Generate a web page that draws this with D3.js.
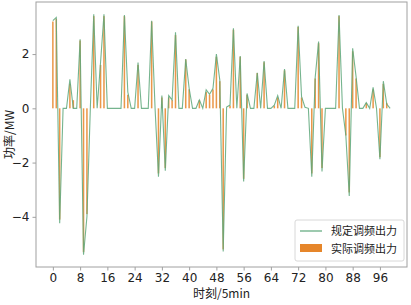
<!DOCTYPE html>
<html>
<head>
<meta charset="utf-8">
<script src="https://cdn.jsdelivr.net/npm/d3@7"></script>
<style>
  body { margin: 0; background: white; }
  text { font-family: "Noto Sans CJK SC", "DejaVu Sans", sans-serif; }
</style>
</head>
<body>
<div id="chart"></div>
<script>
// values, one per 5min step
const specified = [3.23, 3.35, -4.24, 0, 0, 1.07, 0, 0, 2.55, -5.40,
    -4.0, 0, 3.47, 0, 1.7, 3.47, 0, 0, 0, 0,
    0, 3.44, 0.6, 0, 0, 1.69, 0, 0, 0, 3.23,
    0, -2.52, 0.47, -2.30, 0.47, 0.31, 2.80, 0, 0, 1.82,
    0.74, 0, 0, 0.31, 0, 0.68, 0.52, 0.74, 2.0, 1.04,
    -5.28, 0.05, 0.12, 2.95, 0, 1.93, -2.70, 0.55, 0, 0,
    1.31, 0, 1.74, 0, 0, 0.12, 0.47, 0, 1.45, 0,
    0, 0, 3.04, 0.43, 0.04, 0, -2.52, 1.14, 2.46, -2.33,
    0, 0, 0, 0, 3.44, 0, -1.0, -3.23, 2.21, 1.17,
    0, 0, 0.21, 0, 0.77, 0, -1.88, 1.0, 0.16, 0];
const actual = [3.2, 3.3, -4.1, 0, 0, 0.9, 0.3, 0, 2.5, -5.3,
    -3.9, 0, 3.4, 0, 1.6, 3.4, 0, 0, 0, 0,
    0, 3.4, 0.5, 0, 0, 1.6, 0, 0, 0, 3.2,
    0, -2.4, 0.4, -2.2, 0.4, 0.3, 2.7, 0, 0, 1.8,
    0.7, 0, 0, 0.3, 0, 0.6, 0.5, 0.7, 1.9, 1.0,
    -5.2, 0, 0.1, 2.9, 0, 1.9, -2.6, 0.5, 0, 0,
    1.3, 0, 1.7, 0, 0, 0.1, 0.4, 0, 1.4, 0,
    0, 0, 3.0, 0.4, 0, 0, -2.4, 1.1, 2.4, -2.2,
    0, 0, 0, 0, 3.4, 0, -1.0, -3.1, 2.1, 1.1,
    0, 0, 0.2, 0, 0.7, 0, -1.8, 0.9, 0.2, 0];
const xTicks = [0, 8, 16, 24, 32, 40, 48, 56, 64, 72, 80, 88, 96];
const yTicks = [-4, -2, 0, 2];
const seriesNames = ["规定调频出力", "实际调频出力"];

const width = 411;
const height = 305;
const margin = {t: 2, b: 38, l: 36, r: 4};

const svg = d3.select("#chart")
    .append("svg")
    .attr("width", width)
    .attr("height", height)
    .attr("viewBox", [0, 0, width, height]);

const x = d3.scaleLinear()
    .domain([-4.95, 103.95])
    .range([margin.l, width - margin.r]);
const y = d3.scaleLinear()
    .domain([-5.85, 3.92])
    .range([height - margin.b, margin.t]);

const green = "#5da77a";
const orange = "#e6862a";
const barW = x(0.45) - x(0);

// bars
svg.append("g")
    .selectAll("rect")
    .data(actual)
    .enter()
    .append("rect")
    .attr("x", (d, i) => x(i) - barW / 2)
    .attr("y", d => y(Math.max(0, d)))
    .attr("width", barW)
    .attr("height", d => Math.abs(y(d) - y(0)))
    .attr("fill", orange)
    .attr("opacity", 0.85);

// line
const line = d3.line()
    .x((d, i) => x(i))
    .y(d => y(d));
svg.append("path")
    .datum(specified)
    .attr("d", line)
    .attr("fill", "none")
    .attr("stroke", green)
    .attr("stroke-width", 1.1)
    .attr("opacity", 0.85);

// frame
svg.append("rect")
    .attr("x", margin.l)
    .attr("y", margin.t)
    .attr("width", width - margin.l - margin.r)
    .attr("height", height - margin.t - margin.b)
    .attr("fill", "none")
    .attr("stroke", "#a0a0a0")
    .attr("stroke-width", 1);

// axes
const xAxis = svg.append("g")
    .attr("transform", `translate(0, ${height - margin.b})`)
    .call(d3.axisBottom(x).tickValues(xTicks).tickSize(3.5).tickPadding(2.5));
const yAxis = svg.append("g")
    .attr("transform", `translate(${margin.l}, 0)`)
    .call(d3.axisLeft(y).tickValues(yTicks).tickSize(3.5).tickPadding(3)
        .tickFormat(d => d < 0 ? "\u2212" + Math.abs(d) : d));
[xAxis, yAxis].forEach(a => {
    a.select(".domain").remove();
    a.selectAll("line").attr("stroke", "#a0a0a0");
    a.selectAll("text").attr("font-size", 12).attr("fill", "#222")
        .style("font-family", "'DejaVu Sans', sans-serif");
});

svg.append("text")
    .attr("x", (margin.l + width - margin.r) / 2)
    .attr("y", 298)
    .attr("text-anchor", "middle")
    .attr("font-size", 12)
    .attr("fill", "#222")
    .text("时刻/5min");
svg.append("text")
    .attr("transform", `translate(14, ${(margin.t + height - margin.b) / 2}) rotate(-90)`)
    .attr("text-anchor", "middle")
    .attr("font-size", 12)
    .attr("fill", "#222")
    .text("功率/MW");

// legend
const lg = svg.append("g").attr("transform", "translate(295, 220)");
lg.append("rect")
    .attr("width", 109).attr("height", 41).attr("rx", 2)
    .attr("fill", "white").attr("fill-opacity", 0.85)
    .attr("stroke", "#d8d8d8");
lg.append("line")
    .attr("x1", 5).attr("x2", 27).attr("y1", 11).attr("y2", 11)
    .attr("stroke", green).attr("stroke-width", 1.2);
lg.append("rect")
    .attr("x", 5).attr("y", 24).attr("width", 22).attr("height", 8)
    .attr("fill", orange);
lg.selectAll("text.lab")
    .data(seriesNames)
    .enter()
    .append("text")
    .attr("class", "lab")
    .attr("x", 36)
    .attr("y", (d, i) => 15 + i * 18)
    .attr("font-size", 11)
    .attr("fill", "#222")
    .text(d => d);
</script>
</body>
</html>
